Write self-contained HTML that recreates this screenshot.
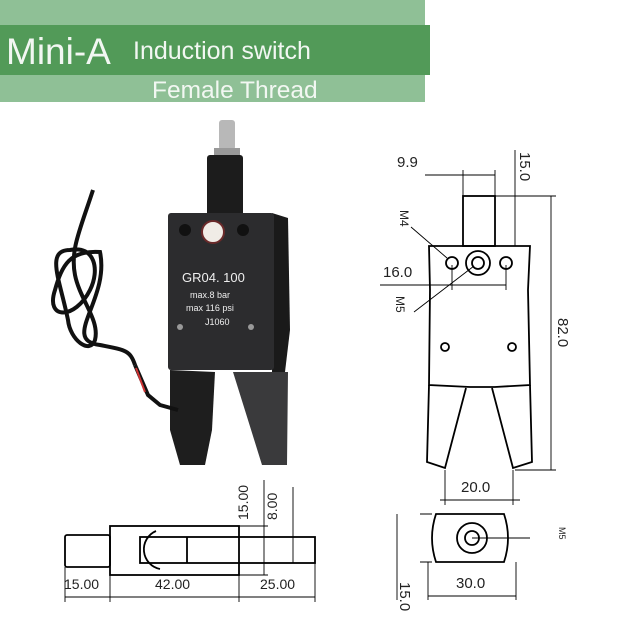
<!DOCTYPE html>
<html><head><meta charset="utf-8"><style>
html,body{margin:0;padding:0;background:#fff;width:620px;height:620px;overflow:hidden}
svg text{font-family:"Liberation Sans",sans-serif}
</style></head><body>
<svg width="620" height="620" viewBox="0 0 620 620" xmlns="http://www.w3.org/2000/svg">
<rect x="0" y="0" width="425" height="26" fill="#8fc096"/>
<rect x="0" y="25" width="430" height="50" fill="#529a58"/>
<rect x="0" y="75" width="425" height="27" fill="#8fc096"/>
<text x="6" y="64" font-size="37" fill="#f2f7f2">Mini-A</text>
<text x="133" y="59" font-size="25" fill="#f2f7f2">Induction switch</text>
<text x="152" y="98" font-size="24.5" fill="#f2f7f2">Female Thread</text>

<!-- photo -->
<g>
<rect x="219" y="120" width="16" height="30" fill="#b8b8b8" rx="3"/>
<rect x="214" y="148" width="26" height="8" fill="#999"/>
<rect x="207" y="155" width="36" height="62" fill="#1c1c1c" rx="3"/>
<path d="M272 213 L288 218 L290 330 L285 372 L272 372 Z" fill="#1a1a1a"/>
<rect x="168" y="213" width="106" height="157" fill="#2c2c2e" rx="3"/>
<circle cx="213" cy="232" r="11" fill="#f0ece6" stroke="#6a2a2a" stroke-width="2"/>
<circle cx="185" cy="230" r="6" fill="#111"/>
<circle cx="243" cy="230" r="6" fill="#111"/>
<circle cx="180" cy="327" r="3" fill="#999"/>
<circle cx="251" cy="327" r="3" fill="#999"/>
<text x="182" y="282" font-size="13" fill="#eee" font-family="Liberation Serif">GR04. 100</text>
<text x="190" y="298" font-size="9" fill="#eee" font-family="Liberation Mono">max.8 bar</text>
<text x="186" y="311" font-size="9" fill="#eee" font-family="Liberation Mono">max 116 psi</text>
<text x="205" y="325" font-size="9" fill="#eee">J1060</text>
<path d="M233 372 L288 372 L287 465 L262 465 L248 420 Z" fill="#3a3a3c"/>
<path d="M170 370 L215 372 L212 430 L205 465 L180 465 L170 430 Z" fill="#1e1e1e"/>
<path d="M93 190 C80 230 70 250 75 275 C80 300 100 320 95 340 C90 355 70 340 68 320 C60 280 45 250 70 250 C95 245 100 270 90 290 C75 320 45 320 55 290 C62 265 70 250 100 252 C110 300 60 340 100 345 C125 350 130 350 135 365" fill="none" stroke="#111" stroke-width="4"/>
<path d="M135 365 L148 395 L160 405 L178 410" fill="none" stroke="#111" stroke-width="4"/>
<path d="M136 368 L145 392" stroke="#c33" stroke-width="2"/>
</g>

<g fill="none" stroke="#000" stroke-width="1.8">
<!-- front view -->
<rect x="463" y="196" width="32" height="50"/>
<path d="M429 246 L530 246 L528 290 L530 385 L495 387 L470 387 L429 385 L430 290 Z"/>
<path d="M429 385 L427 462 L445 468 L466 388"/>
<path d="M492 388 L513 468 L532 462 L530 385"/>
<circle cx="452" cy="263" r="6"/><circle cx="478" cy="263" r="12"/><circle cx="478" cy="263" r="6"/><circle cx="506" cy="263" r="6"/>
<circle cx="445" cy="347" r="4"/><circle cx="512" cy="347" r="4"/>
</g>
<g fill="none" stroke="#000" stroke-width="0.9">
<path d="M425 175 L495 175 M463 170 L463 196 M495 170 L495 196 M515 150 L515 246 M495 196 L556 196 M551 196 L551 470 M515 470 L556 470 M380 285 L506 285 M452 265 L452 290 M506 265 L506 290 M411 227 L447 258 M414 312 L474 266 M445 470 L445 505 M513 470 L513 505 M440 500 L520 500"/>
<!-- bottom right -->
<path d="M420 514 L432 514 M420 562 L432 562 M397 514 L397 600 M428 562 L428 600 M516 562 L516 600 M428 596 L516 596 M472 538 L530 538"/>
<!-- bottom left -->
<path d="M239 526 L268 526 M239 575 L268 575 M264 480 L264 575 M293 487 L293 563 M65 567 L65 602 M110 575 L110 602 M239 575 L239 602 M315 563 L315 602 M65 597 L315 597"/>
</g>
<g fill="none" stroke="#000" stroke-width="1.8">
<path d="M436 514 L504 514 Q512 538 504 562 L436 562 Q428 538 436 514 Z"/>
<circle cx="472" cy="538" r="15"/><circle cx="472" cy="538" r="7"/>
<rect x="65" y="535" width="45" height="32" rx="2"/>
<rect x="110" y="526" width="129" height="49"/>
<path d="M156 531 A20 20 0 0 0 160 569"/>
<rect x="140" y="537" width="175" height="26"/>
<path d="M187 537 L187 563"/>
</g>
<g font-size="15" fill="#222">
<text x="397" y="167">9.9</text>
<text x="383" y="277">16.0</text>
<text x="461" y="492">20.0</text>
<text x="456" y="588">30.0</text>
<text x="64" y="589" font-size="14">15.00</text>
<text x="155" y="589" font-size="14">42.00</text>
<text x="260" y="589" font-size="14">25.00</text>
<text transform="translate(520,152) rotate(90)">15.0</text>
<text transform="translate(558,318) rotate(90)">82.0</text>
<text transform="translate(400,582) rotate(90)">15.0</text>
<text transform="translate(248,520) rotate(-90)" font-size="14">15.00</text>
<text transform="translate(277,520) rotate(-90)" font-size="14">8.00</text>
<text transform="translate(400,210) rotate(90)" font-size="12">M4</text>
<text transform="translate(396,296) rotate(90)" font-size="12">M5</text>
<text transform="translate(559,527) rotate(90)" font-size="9">M5</text>
</g>
</svg>
</body></html>
